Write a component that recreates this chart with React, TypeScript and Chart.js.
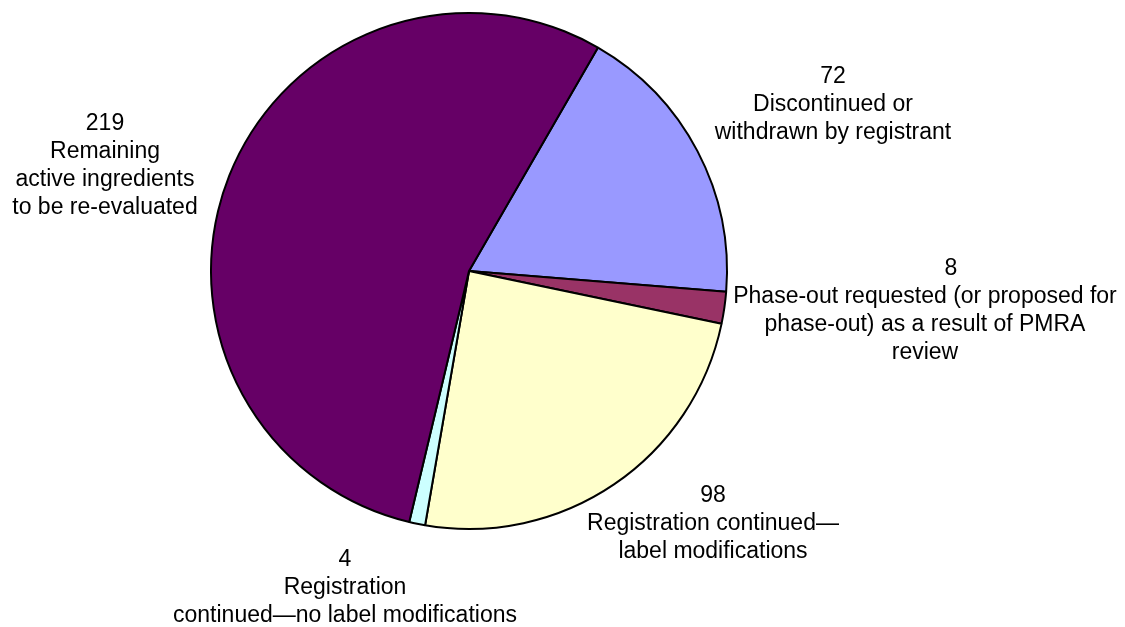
import React, { useEffect, useRef } from "react";
import { Chart, registerables } from "chart.js";

Chart.register(...registerables);

// Active ingredients by re-evaluation outcome
const categories = [
  "Discontinued or withdrawn by registrant",
  "Phase-out requested (or proposed for phase-out) as a result of PMRA review",
  "Registration continued—label modifications",
  "Registration continued—no label modifications",
  "Remaining active ingredients to be re-evaluated",
];
const counts = [72, 8, 98, 4, 219];
const sliceColors = ["#9999FF", "#993366", "#FFFFCC", "#CCFFFF", "#660066"];

// Wrapped caption lines drawn under each count
const captionLines = [
  ["Discontinued or", "withdrawn by registrant"],
  ["Phase-out requested (or proposed for", "phase-out) as a result of PMRA", "review"],
  ["Registration continued—", "label modifications"],
  ["Registration", "continued—no label modifications"],
  ["Remaining", "active ingredients", "to be re-evaluated"],
];

// Where each caption block sits, relative to the pie centre
// (dx = block centre, dy = first baseline, countDx = extra shift of the count line)
const captionOffsets = [
  { dx: 364, dy: -188, countDx: 0 },
  { dx: 456, dy: 4, countDx: 26 },
  { dx: 244, dy: 231, countDx: 0 },
  { dx: -124, dy: 295, countDx: 0 },
  { dx: -364, dy: -141, countDx: 0 },
];

const LABEL_FONT = '23px "Liberation Sans", Arial, sans-serif';
const LINE_HEIGHT = 28;

const captionPlugin = {
  id: "sliceCaptions",
  afterDatasetsDraw(chart: any) {
    const meta = chart.getDatasetMeta(0);
    const ctx = chart.ctx;
    ctx.save();
    ctx.font = LABEL_FONT;
    ctx.fillStyle = "#000000";
    ctx.textAlign = "center";
    ctx.textBaseline = "alphabetic";
    meta.data.forEach((arc: any, i: number) => {
      const { x, y } = arc.getProps(["x", "y"], true);
      const off = captionOffsets[i];
      const lines = [String(counts[i]), ...captionLines[i]];
      lines.forEach((line, j) => {
        const shift = j === 0 ? off.countDx : 0;
        ctx.fillText(line, x + off.dx + shift, y + off.dy + j * LINE_HEIGHT);
      });
    });
    ctx.restore();
  },
};

export default function App() {
  const canvasRef = useRef<HTMLCanvasElement | null>(null);

  useEffect(() => {
    const canvas = canvasRef.current;
    if (!canvas) return;
    const chart = new Chart(canvas, {
      type: "pie",
      data: {
        labels: categories,
        datasets: [
          {
            data: counts,
            backgroundColor: sliceColors,
            borderColor: "#000000",
            borderWidth: 2,
          },
        ],
      },
      options: {
        responsive: false,
        animation: false,
        rotation: 30,
        layout: { padding: { top: 12, bottom: 97, left: 210, right: 397 } },
        plugins: {
          legend: { display: false },
          tooltip: { enabled: false },
          title: { display: false },
        },
      },
      plugins: [captionPlugin],
    });
    return () => chart.destroy();
  }, []);

  return (
    <div style={{ position: "absolute", left: 0, top: 0, width: 1125, height: 627, background: "#ffffff" }}>
      <canvas ref={canvasRef} width={1125} height={627} style={{ display: "block" }} />
    </div>
  );
}
